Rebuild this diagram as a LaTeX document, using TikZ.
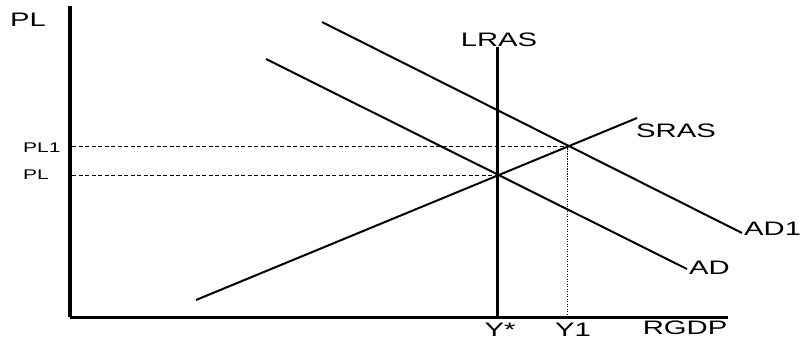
\documentclass[tikz,border=0pt]{standalone}
\usepackage{fontspec}
\setmainfont{Liberation Sans}[FakeStretch=1.5]
\usetikzlibrary{positioning}

\begin{document}
\begin{tikzpicture}[x=1pt, y=-1pt,
  big/.style={inner sep=0pt, font=\fontsize{19.5}{20}\selectfont},
  small/.style={inner sep=0pt, font=\fontsize{14}{15}\selectfont},
  axis/.style={line width=3.5pt},
  curve/.style={line width=2pt},
  guide/.style={line width=0.8pt, dash pattern=on 4pt off 2.5pt},
  guidev/.style={line width=0.8pt, dash pattern=on 1.2pt off 1.3pt}]
\path[use as bounding box] (0,0) rectangle (802,339);
% axes
\coordinate (O) at (70,317);
\coordinate (Ytop) at (70,6);
\coordinate (Xend) at (728,317);
\draw[axis] (Ytop) -- (O);
\draw[axis, line width=3pt] (O) -- (Xend);
% equilibria
\coordinate (E0) at (497,175);
\coordinate (E1) at (567,146);
\coordinate (PLa) at (72,175);
\coordinate (PLb) at (72,146);
\coordinate (Y1b) at (567,317);
\draw[guide] (PLb) -- (E1);
\draw[guide] (PLa) -- (E0);
\draw[guidev] (E1) -- (Y1b);
% LRAS
\coordinate (Ltop) at (497,47);
\coordinate (Lbot) at (497,317);
\draw[axis, line width=3pt] (Ltop) -- (Lbot);
% SRAS, AD, AD1
\coordinate (S0) at (196,300);
\coordinate (S1) at (637,118);
\coordinate (A0) at (266,59);
\coordinate (A1) at (687,269);
\coordinate (B0) at (322,22);
\coordinate (B1) at (742,233);
\draw[curve] (S0) -- (S1);
\draw[curve] (A0) -- (A1);
\draw[curve] (B0) -- (B1);
% labels
\node[big, anchor=west] (plaxis) at (10,20) {PL};
\node[small, anchor=west] (pl1) at (23,148) {PL1};
\node[small, anchor=west] (pl0) at (23,175) {PL};
\node[big] (lras) at (499,40) {LRAS};
\node[big] (sras) at (676,131) {SRAS};
\node[big, anchor=west] (ad1) at (744,228.5) {AD1};
\node[big, anchor=west] (ad) at (689,268) {AD};
\node[big] (ystar) at (500,329.5) {Y*};
\node[big] (y1) at (573,329.5) {Y1};
\node[big] (rgdp) at (685,328) {RGDP};
\end{tikzpicture}
\end{document}
